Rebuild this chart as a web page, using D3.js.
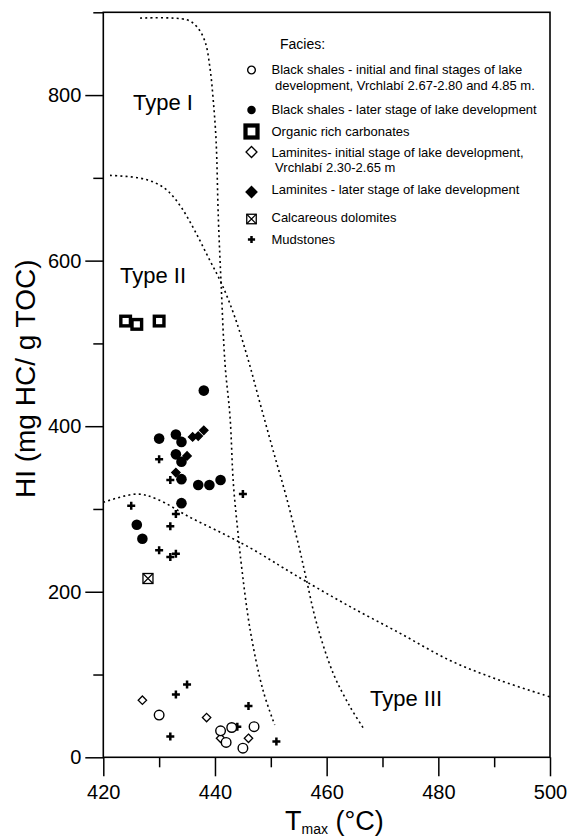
<!DOCTYPE html>
<html>
<head>
<meta charset="utf-8">
<script src="https://cdn.jsdelivr.net/npm/d3@7"></script>
<style>
  body { margin: 0; background: #fff; }
  svg { display: block; font-family: "Liberation Sans", Arial, sans-serif; }
</style>
</head>
<body>
<svg id="chart" width="569" height="837"></svg>
<script>
// Tmax / HI readings, one list of [tmax, HI] per facies
const blackShalesEarly = [[430, 51], [441, 32], [443, 36], [442, 18], [445, 11], [447, 37]]
const blackShalesLate = [[438, 443], [430, 385], [433, 390], [434, 381], [433, 366], [434, 357],
  [434, 336], [437, 329], [439, 329], [441, 335], [434, 307], [426, 281], [427, 264]]
const carbonates = [[424, 527], [426, 523], [430, 527]]
const laminitesEarly = [[427, 69], [438.5, 48], [441, 23], [446, 23]]
const laminitesLate = [[436, 387], [437, 388], [438, 395], [435, 364], [433, 344]]
const dolomites = [[428, 216]]
const mudstones = [[430, 360], [432, 335], [445, 318], [425, 304], [433, 294], [432, 279],
  [430, 250], [432, 242], [433, 246], [433, 76], [435, 88], [432, 25], [444, 37], [446, 62], [451, 19]]

// kerogen type boundary curves
const typeICurve = [[426.6, 893], [434.9, 891], [436.7, 883], [438.2, 865], [439.1, 833], [439.7, 793],
  [440.2, 745], [440.6, 652], [441.1, 572], [441.8, 475], [442.7, 411], [443.3, 330], [444.2, 266],
  [444.7, 234], [446.3, 154], [448.6, 81], [450.7, 39]]
const typeIICurve = [[421.2, 703], [426.3, 700], [429.3, 694], [431.6, 684], [434.0, 664], [436.4, 636],
  [438.8, 604], [441.2, 572], [443.6, 531], [446.0, 479], [448.1, 427], [450.4, 371], [452.8, 314],
  [455.2, 250], [456.4, 214], [458.2, 162], [461.2, 101], [464.2, 61], [466.6, 35]]
const typeIIICurve = [[420, 308], [426, 318], [429.6, 312], [435.5, 290], [441.5, 270], [446.3, 253],
  [449.8, 239], [452.2, 229], [456.4, 212], [464.2, 182], [473.1, 150], [482.1, 117], [491.0, 93], [500, 73]]

const xMajor = [420, 440, 460, 480, 500]
const xMinor = [430, 450, 470, 490]
const yMajor = [0, 200, 400, 600, 800]
const yMinor = [100, 300, 500, 700, 900]

const svg = d3.select("#chart")

const x = d3.scaleLinear().domain([420, 500]).range([103.3, 550])
const y = d3.scaleLinear().domain([0, 900]).range([757.3, 12.3])

// axes
const gx = svg.append("g").attr("transform", `translate(0,${y(0)})`)
gx.append("g").call(d3.axisBottom(x).tickValues(xMajor).tickSize(19).tickSizeOuter(0).tickPadding(9))
gx.append("g").call(d3.axisBottom(x).tickValues(xMinor).tickSize(10).tickSizeOuter(0).tickFormat(""))

const gy = svg.append("g").attr("transform", `translate(${x(420)},0)`)
gy.append("g").call(d3.axisLeft(y).tickValues(yMajor).tickSize(18).tickSizeOuter(0).tickPadding(4))
gy.append("g").call(d3.axisLeft(y).tickValues(yMinor).tickSize(10).tickSizeOuter(0).tickFormat(""))

svg.selectAll(".domain").remove()
svg.selectAll(".tick line").attr("stroke", "#000").attr("stroke-width", 1.5)
svg.selectAll(".tick text")
  .attr("font-size", 20)
  .attr("font-family", "Liberation Sans, Arial, sans-serif")
  .attr("fill", "#000")

// frame
svg.append("rect")
  .attr("x", x(420)).attr("y", y(900))
  .attr("width", x(500) - x(420)).attr("height", y(0) - y(900))
  .attr("fill", "none").attr("stroke", "#000").attr("stroke-width", 1.6)

// axis titles
svg.append("text")
  .attr("transform", `translate(35,${(y(0) + y(900)) / 2 - 6}) rotate(-90)`)
  .attr("text-anchor", "middle")
  .attr("font-size", 28)
  .text("HI (mg HC/ g TOC)")

const xt = svg.append("text").attr("x", 285).attr("y", 830).attr("font-size", 27)
xt.append("tspan").text("T")
xt.append("tspan").attr("font-size", 14).attr("dy", 4).text("max")
xt.append("tspan").attr("dy", -4).text(" (°C)")

// boundary curves
const line = d3.line()
  .x(d => x(d[0]))
  .y(d => y(d[1]))
  .curve(d3.curveCatmullRom.alpha(0.5))

svg.selectAll(".boundary")
  .data([typeICurve, typeIICurve, typeIIICurve])
  .join("path")
  .attr("class", "boundary")
  .attr("d", line)
  .attr("fill", "none")
  .attr("stroke", "#000")
  .attr("stroke-width", 1.6)
  .attr("stroke-dasharray", "2 3.2")

svg.append("text").attr("x", 133).attr("y", 110).attr("font-size", 22).text("Type I")
svg.append("text").attr("x", 120).attr("y", 283).attr("font-size", 22).text("Type II")
svg.append("text").attr("x", 370).attr("y", 706).attr("font-size", 22).text("Type III")

// marker drawing
function drawMarker(g, kind, s) {
  if (kind === "openCircle") {
    g.append("circle").attr("r", 4.8 * s).attr("fill", "#fff").attr("stroke", "#000").attr("stroke-width", 1.4)
  } else if (kind === "dot") {
    g.append("circle").attr("r", 5.3 * s).attr("fill", "#000")
  } else if (kind === "square") {
    const h = 4.8 * s
    g.append("rect").attr("x", -h).attr("y", -h).attr("width", 2 * h).attr("height", 2 * h)
      .attr("fill", "#fff").attr("stroke", "#000").attr("stroke-width", 3.4 * s)
  } else if (kind === "openDiamond" || kind === "diamond") {
    const h = 4.2 * s
    g.append("path").attr("d", `M0,${-h}L${h},0L0,${h}L${-h},0Z`)
      .attr("fill", kind === "diamond" ? "#000" : "#fff")
      .attr("stroke", "#000").attr("stroke-width", 1.3)
  } else if (kind === "boxX") {
    const h = 5 * s
    g.append("rect").attr("x", -h).attr("y", -h).attr("width", 2 * h).attr("height", 2 * h)
      .attr("fill", "#fff").attr("stroke", "#000").attr("stroke-width", 1.3)
    g.append("path").attr("d", `M${-h},${-h}L${h},${h}M${h},${-h}L${-h},${h}`)
      .attr("stroke", "#000").attr("stroke-width", 1.1)
  } else if (kind === "plus") {
    const h = 4 * s
    g.append("path").attr("d", `M${-h},0H${h}M0,${-h}V${h}`)
      .attr("stroke", "#000").attr("stroke-width", 2.5)
  }
}

const series = [
  { data: carbonates, kind: "square" },
  { data: blackShalesLate, kind: "dot" },
  { data: laminitesLate, kind: "diamond" },
  { data: mudstones, kind: "plus" },
  { data: dolomites, kind: "boxX" },
  { data: laminitesEarly, kind: "openDiamond" },
  { data: blackShalesEarly, kind: "openCircle" }
]

series.forEach(sr => {
  svg.append("g").selectAll("g")
    .data(sr.data)
    .join("g")
    .attr("transform", d => `translate(${x(d[0])},${y(d[1])})`)
    .each(function () { drawMarker(d3.select(this), sr.kind, 1) })
})

// legend
const legend = svg.append("g").attr("font-size", 13)
legend.append("text").attr("x", 280).attr("y", 49).attr("font-size", 14).text("Facies:")

const legendItems = [
  { kind: "openCircle", s: 0.8, my: 70, lines: ["Black shales - initial and final stages of lake", " development, Vrchlabí 2.67-2.80 and 4.85 m."], ty: 74 },
  { kind: "dot", s: 0.8, my: 110, lines: ["Black shales - later stage of lake development"], ty: 114 },
  { kind: "square", s: 1.25, my: 131.5, lines: ["Organic rich carbonates"], ty: 135.5 },
  { kind: "openDiamond", s: 1.3, my: 152, lines: ["Laminites- initial stage of lake development,", " Vrchlabí 2.30-2.65 m"], ty: 156.5 },
  { kind: "diamond", s: 1.3, my: 192, lines: ["Laminites - later stage of lake development"], ty: 193.5 },
  { kind: "boxX", s: 0.95, my: 219, lines: ["Calcareous dolomites"], ty: 222 },
  { kind: "plus", s: 0.9, my: 239.5, lines: ["Mudstones"], ty: 243.5 }
]

legendItems.forEach(it => {
  const g = legend.append("g").attr("transform", `translate(251.5,${it.my})`)
  drawMarker(g, it.kind, it.s)
  const t = legend.append("text").attr("x", 271.5).attr("y", it.ty).attr("xml:space", "preserve")
  it.lines.forEach((ln, i) => {
    t.append("tspan").attr("x", 271.5).attr("dy", i === 0 ? 0 : 15.5).text(ln)
  })
})
</script>
</body>
</html>
